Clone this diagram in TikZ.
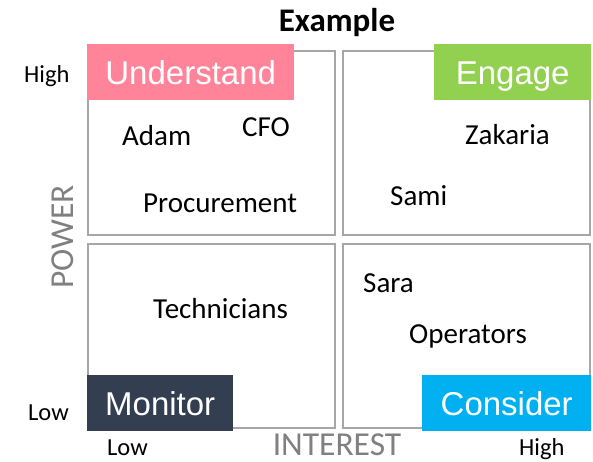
\documentclass[tikz,border=0pt]{standalone}
\usepackage{fontspec}
\setmainfont{Carlito}
\newfontfamily\tagfont{Liberation Sans}
\usetikzlibrary{positioning}

\definecolor{tagpink}{HTML}{FF8399}
\definecolor{taggreen}{HTML}{92D050}
\definecolor{tagslate}{HTML}{333F50}
\definecolor{tagblue}{HTML}{00B0F0}

\begin{document}
\begin{tikzpicture}[x=1pt, y=-1pt,
		quad/.style={draw=black!35, line width=1.6pt, anchor=north west, inner sep=0pt,
			minimum width=247pt, minimum height=184pt},
		tag/.style={anchor=north west, inner sep=0pt, text=white, minimum height=56pt,
			text height=24pt, text depth=0pt, font=\tagfont\fontsize{33}{36}\selectfont},
		who/.style={anchor=base west, inner sep=0pt, font=\fontsize{29}{32}\selectfont},
		axis/.style={text=black!50, inner sep=0pt, font=\fontsize{33.5}{36}\selectfont},
		level/.style={anchor=base west, inner sep=0pt, font=\fontsize{24.5}{28}\selectfont}]
		\useasboundingbox (0,0) rectangle (593,462);

		% quadrants
		\node[quad] (q1) at (87,50)   {};
		\node[quad] (q2) at (342,50)  {};
		\node[quad] (q3) at (87,243)  {};
		\node[quad] (q4) at (342,243) {};

		% corner tags
		\node[tag, fill=tagpink,  minimum width=207pt] (understand) at (87,44)  {Understand};
		\node[tag, fill=taggreen, minimum width=157pt] (engage)     at (434,44) {Engage};
		\node[tag, fill=tagslate, minimum width=146pt] (monitor)    at (87,375) {Monitor};
		\node[tag, fill=tagblue,  minimum width=169pt] (consider)   at (422,375) {Consider};

		% stakeholders
		\node[who] (adam)   at (122,146) {Adam};
		\node[who] (cfo)    at (242,137) {CFO};
		\node[who] (procur) at (143,212) {Procurement};
		\node[who] (zak)    at (465,145) {Zakaria};
		\node[who] (sami)   at (390,205) {Sami};
		\node[who] (tech)   at (153,318) {Technicians};
		\node[who] (sara)   at (363,292) {Sara};
		\node[who] (oper)   at (409,343) {Operators};

		% axes
		\node[anchor=base, inner sep=0pt, font=\bfseries\fontsize{33}{36}\selectfont] (title) at (337,32) {Example};
		\node[axis, anchor=base] (interest) at (337,455) {INTEREST};
		\node[axis, anchor=base, rotate=90] (power) at (73,237) {POWER};
		\node[level] (yhigh) at (24,83)  {High};
		\node[level] (ylow)  at (28,420) {Low};
		\node[level] (xlow)  at (107,455) {Low};
		\node[level] (xhigh) at (519,455) {High};
	\end{tikzpicture}
\end{document}
